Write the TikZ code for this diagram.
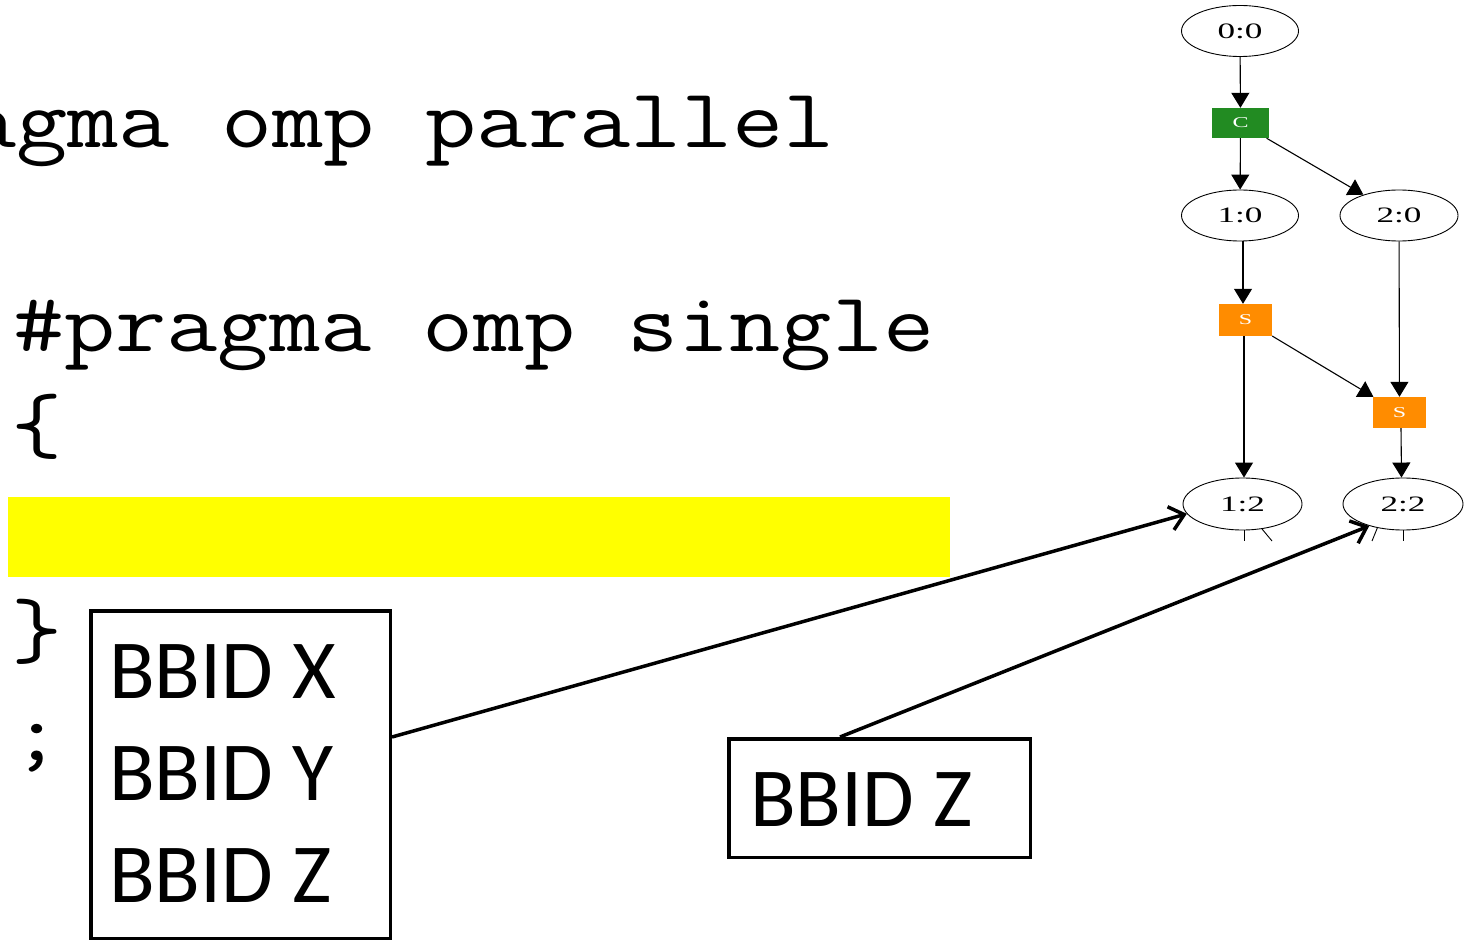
\documentclass[tikz,border=0pt]{standalone}
\usepackage{fontspec}
\usetikzlibrary{shapes.geometric,arrows.meta}
\newfontfamily\labelfont{Carlito}
\newfontfamily\graphfont{Liberation Serif}
% graph labels are drawn horizontally stretched
\newcommand\widetext[1]{\scalebox{1.6}[1]{#1}}
% typewriter code, widened to a 50.4pt character pitch
\newcommand\codetext[1]{\scalebox{1.183}[1]{#1}}
\definecolor{cfgreen}{HTML}{228B22}
\definecolor{cforange}{HTML}{FF8C00}
\definecolor{hlyellow}{RGB}{255,255,0}

\begin{document}
\begin{tikzpicture}[x=1pt,y=-1pt,
  codeline/.style={anchor=base west, inner sep=0pt, font=\ttfamily\fontsize{84}{100}\selectfont},
  bbid/.style={anchor=base west, inner sep=0pt, font=\labelfont\fontsize{84}{100}\selectfont},
  bbframe/.style={draw, line width=3.5pt, inner sep=0pt},
  state/.style={ellipse, draw, line width=0.9pt, inner sep=0pt,
    minimum width=117pt, minimum height=51pt,
    font=\graphfont\fontsize{22}{22}\selectfont},
  event/.style={rectangle, inner sep=0pt, text=white,
    font=\graphfont\fontsize{15}{15}\selectfont},
  flow/.style={line width=1.1pt, -{Triangle[length=15pt,width=18pt]}},
  stub/.style={line width=0.9pt},
  bblink/.style={line width=3.5pt, -{Straight Barb[length=14pt,width=24pt,line width=3.5pt]}}
]
\useasboundingbox (0,0) rectangle (1470,941);

% highlighted source line
\fill[hlyellow] (8,497) rectangle (950,577);

% source code
\node[codeline] (l1) at (-188.6,148) {\codetext{\#pragma omp parallel}};
\node[codeline] (l2) at (13,352) {\codetext{\#pragma omp single}};
\node[codeline] (l3) at (11,452) {\codetext{\{}};
\node[codeline] (l5) at (11,657) {\codetext{\}}};
\node[codeline] (l6) at (11,760) {\codetext{;}};

% basic block id boxes
\node[bbframe, minimum width=299.5pt, minimum height=327.5pt] (bb1) at (240.5,774.5) {};
\node[bbid] (tx) at (109,698) {BBID X};
\node[bbid] (ty) at (109,800) {BBID Y};
\node[bbid] (tz) at (109,902) {BBID Z};

\node[bbframe, minimum width=301.5pt, minimum height=118.5pt] (bb2) at (879.5,798) {};
\node[bbid] (tz2) at (750,826) {BBID Z};

% task graph
\node[state] (n00) at (1240,31) {\widetext{0:0}};
\node[event, fill=cfgreen, minimum width=57pt, minimum height=30pt] (c) at (1240.5,123) {\widetext{C}};
\node[state] (n10) at (1240,215.5) {\widetext{1:0}};
\node[state, minimum width=118pt] (n20) at (1399,215.5) {\widetext{2:0}};
\node[event, fill=cforange, minimum width=53pt, minimum height=32pt] (s1) at (1245.5,320) {\widetext{S}};
\node[event, fill=cforange, minimum width=53pt, minimum height=31pt] (s2) at (1399.5,412.5) {\widetext{S}};
\node[state, minimum width=119pt, minimum height=52pt] (n12) at (1242.5,504) {\widetext{1:2}};
\node[state, minimum width=120pt, minimum height=52pt] (n22) at (1403,504) {\widetext{2:2}};

\draw[flow] (n00) -- (c);
\draw[flow] (c) -- (n10);
\draw[flow] (c) -- (n20);
\draw[flow] ([xshift=3pt]n10.south) -- ([xshift=-2.5pt]s1.north);
\draw[flow] (n20) -- (s2);
\draw[flow] ([xshift=-1.5pt]s1.south) -- ([xshift=1.5pt]n12.north);
\draw[flow] (s1) -- (s2);
\draw[flow] ([xshift=1.5pt]s2.south) -- ([xshift=-1.5pt]n22.north);

% outgoing edges leaving the visible part of the graph
\coordinate (o12a) at (1244,541);
\coordinate (o12b) at (1272,541);
\coordinate (o22a) at (1372,541);
\coordinate (o22b) at (1403,541);
\draw[stub] (n12.south -| o12a) -- (o12a);
\draw[stub] (n12.-52) -- (o12b);
\draw[stub] (n22.-137) -- (o22a);
\draw[stub] (n22.south -| o22b) -- (o22b);

% links from the id boxes to graph nodes
\draw[bblink] ([yshift=37.5pt]bb1.east) -- (n12.190);
\draw[bblink] ([xshift=-39.5pt]bb2.north) -- (n22.213);
\end{tikzpicture}
\end{document}
